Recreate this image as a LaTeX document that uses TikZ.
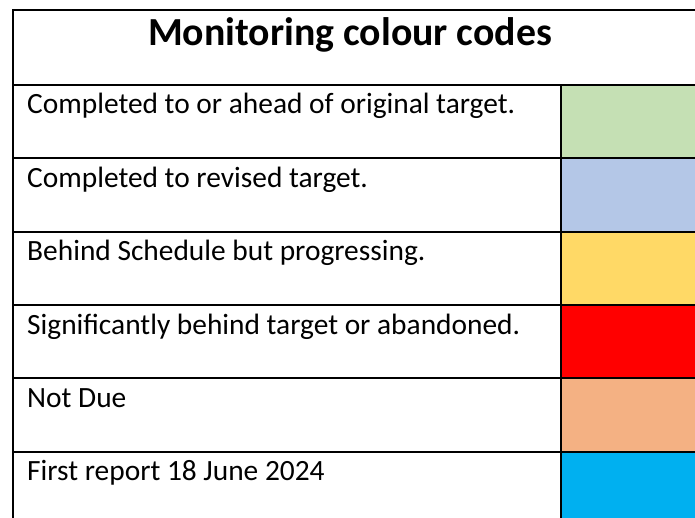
\documentclass[tikz,border=0pt]{standalone}
\usepackage{fontspec}
\setmainfont{Carlito}
\definecolor{codegreen}{HTML}{C5E0B4}
\definecolor{codeblue}{HTML}{B4C7E7}
\definecolor{codeyellow}{HTML}{FFD966}
\definecolor{codered}{HTML}{FF0000}
\definecolor{codeorange}{HTML}{F4B183}
\definecolor{codecyan}{HTML}{00B0F0}
\tikzset{
  rowtext/.style={anchor=base west, inner sep=0pt, font=\fontsize{29.4}{34}\selectfont},
  rule/.style={line width=2pt}
}
\begin{document}
\begin{tikzpicture}[x=1pt,y=-1pt]
\useasboundingbox (0,0) rectangle (695,518);
\node[anchor=base, inner sep=0pt, font=\fontsize{39.8}{46}\selectfont\bfseries] (title) at (350,45.5) {Monitoring colour codes};
\fill[codegreen] (561,85) rectangle (700,158.3);
\fill[codeblue] (561,158.3) rectangle (700,231.6);
\fill[codeyellow] (561,231.6) rectangle (700,305);
\fill[codered] (561,305) rectangle (700,378.3);
\fill[codeorange] (561,378.3) rectangle (700,451.6);
\fill[codecyan] (561,451.6) rectangle (700,520);
\node[rowtext] (row1) at (27,114) {Completed to or ahead of original target.};
\node[rowtext] (row2) at (27,187.3) {Completed to revised target.};
\node[rowtext] (row3) at (27,260.6) {Behind Schedule but progressing.};
\node[rowtext] (row4) at (27,334) {Significantly behind target or abandoned.};
\node[rowtext] (row5) at (27,407.3) {Not Due};
\node[rowtext] (row6) at (27,480.6) {First report 18 June 2024};
\draw[rule] (13,520) -- (13,10) -- (700,10);
\draw[rule] (13,85) -- (700,85);
\draw[rule] (13,158.3) -- (700,158.3);
\draw[rule] (13,231.6) -- (700,231.6);
\draw[rule] (13,305) -- (700,305);
\draw[rule] (13,378.3) -- (700,378.3);
\draw[rule] (13,451.6) -- (700,451.6);
\draw[rule] (561,85) -- (561,520);
\end{tikzpicture}
\end{document}
